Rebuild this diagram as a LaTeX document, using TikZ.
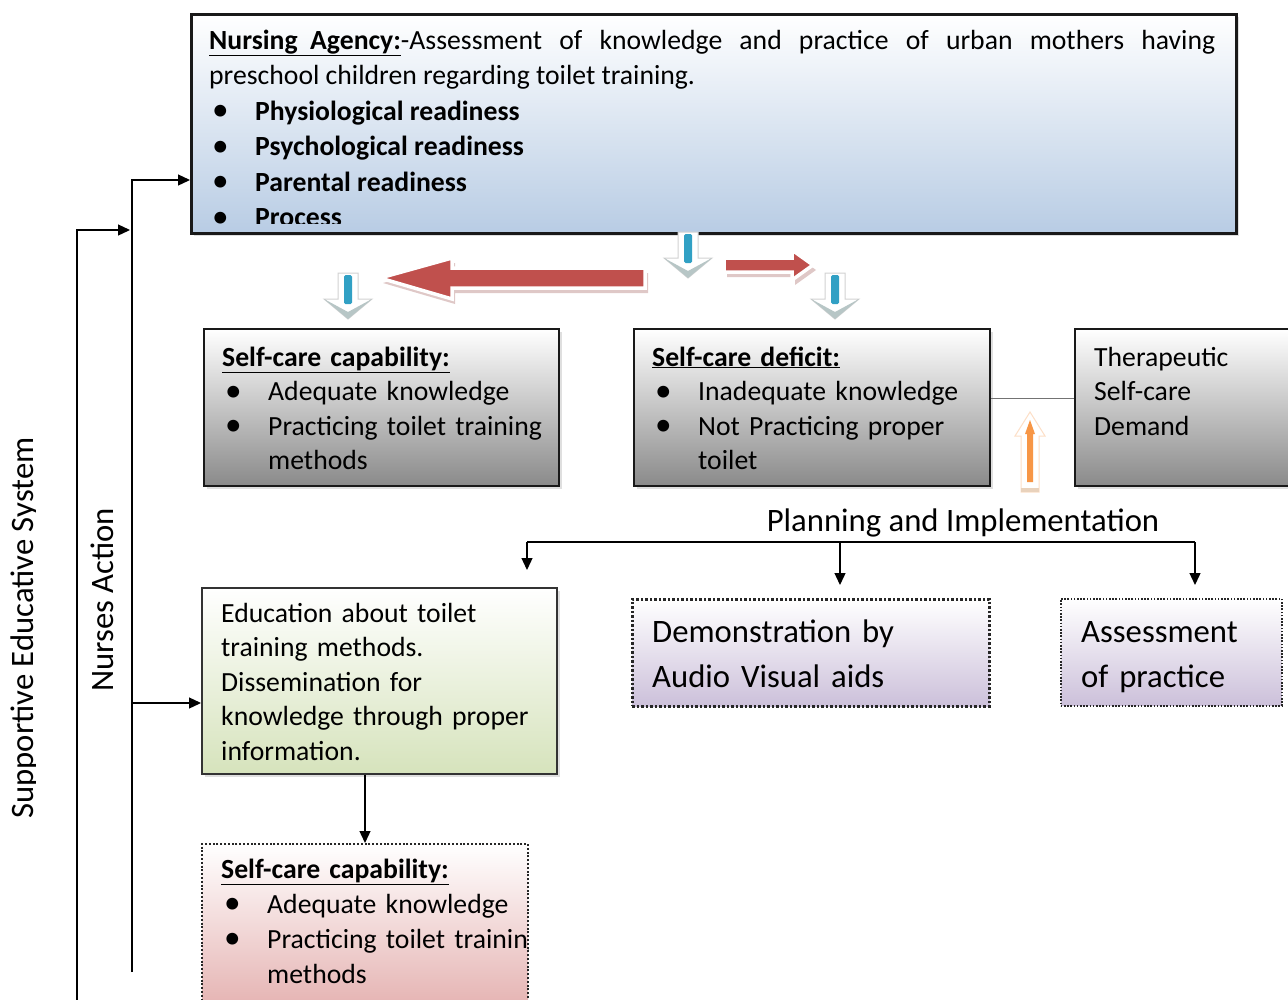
\documentclass[tikz,border=0pt]{standalone}
\usepackage{fontspec}
\setmainfont{Carlito}
\usetikzlibrary{arrows.meta, positioning, shadows}
\definecolor{agencyblue}{RGB}{184,204,228}
\definecolor{deficitgray}{RGB}{138,138,138}
\definecolor{educgreen}{RGB}{214,227,188}
\definecolor{demolilac}{RGB}{204,192,218}
\definecolor{capnextpink}{RGB}{228,176,175}
\definecolor{arrowred}{RGB}{192,80,77}
\definecolor{arrowteal}{RGB}{49,160,196}
\definecolor{arroworange}{RGB}{247,150,70}

\newcommand{\itm}{\makebox[46pt][l]{\hspace{3pt}\raisebox{-0.5pt}{\scalebox{1.2}{\textbullet}}}}
\newcommand{\basefont}{\fontsize{27.7pt}{34.5pt}\selectfont}
\newcommand{\bigfont}{\fontsize{32.7pt}{45pt}\selectfont}

\tikzset{
  % hollow block arrows between the boxes
  dropmark/.pic={
    \draw[fill=white, draw=gray!35, line width=1pt]
      (-10,0) -- (10,0) -- (10,26) -- (24,26) -- (0,46) -- (-24,26) -- (-10,26) -- cycle;
    \fill[teal!25!gray!45] (-24,26) -- (0,46) -- (24,26) -- (0,39) -- cycle;
    \fill[arrowteal, rounded corners=1.5pt] (-4,2) rectangle (4,31);
  },
  liftmark/.pic={
    \draw[fill=white, draw=arroworange!30, line width=1pt]
      (-9,0) -- (9,0) -- (9,-56) -- (15,-56) -- (0,-80) -- (-15,-56) -- (-9,-56) -- cycle;
    \fill[arroworange] (-3,-10) -- (3,-10) -- (3,-58) -- (5,-58) -- (0,-72) -- (-5,-58) -- (-3,-58) -- cycle;
    \fill[brown!35] (-9,0) rectangle (9,-4);
  },
}

\begin{document}
\begin{tikzpicture}[x=1pt, y=-1pt,
    card/.style={draw=black!90, line width=2pt, rectangle, anchor=north west, inner sep=0pt,
      top color=white, drop shadow={opacity=.25, shadow xshift=3pt, shadow yshift=-3pt}},
    dotcard/.style={draw=black!85, rectangle, anchor=north west, inner sep=0pt,
      top color=white, line width=2.5pt, dash pattern=on 2.5pt off 2pt},
    txt/.style={anchor=base west, inner sep=0pt, text width=340pt, align=left, font=\basefont},
    flow/.style={-{Triangle[length=12pt,width=11pt]}, line width=1.3pt},
    redarrow/.style={fill=arrowred, draw=white, line width=3.5pt, line join=miter,
      drop shadow={opacity=.35, shadow xshift=3pt, shadow yshift=-5pt, fill=arrowred!60!gray}}]
    \useasboundingbox[fill=white] (0,0) rectangle (1288,999);

    % boxes
    \node[card, line width=2.5pt, bottom color=agencyblue, minimum width=1045pt, minimum height=219pt] (agency) at (190,13) {};
    \node[card, bottom color=deficitgray, minimum width=355pt, minimum height=157pt] (cap) at (203,328) {};
    \node[card, bottom color=deficitgray, minimum width=356pt, minimum height=157pt] (deficit) at (633,328) {};
    \node[card, bottom color=deficitgray, minimum width=240pt, minimum height=157pt] (demand) at (1074,328) {};
    \node[card, line width=1.6pt, draw=black!80, bottom color=educgreen, minimum width=355pt, minimum height=186pt] (ed) at (201,587) {};
    \node[dotcard, bottom color=demolilac, minimum width=357pt, minimum height=107pt] (demo) at (631,598) {};
    \node[dotcard, line width=1.6pt, dash pattern=on 1.6pt off 1.6pt, bottom color=demolilac, minimum width=221pt, minimum height=107pt] (assess) at (1060,598) {};
    \node[dotcard, line width=2pt, dash pattern=on 2pt off 1.8pt, bottom color=capnextpink, minimum width=326pt, minimum height=170pt] (capnext) at (201,843) {};

    % box texts
    \begin{scope}
        \clip ([shift={(2pt,-2pt)}]agency.north west) rectangle ([shift={(-2pt,11pt)}]agency.south east);
        \node[txt, text width=1006pt, align=justify, font=\fontsize{27.7pt}{35.5pt}\selectfont, xshift=19pt, yshift=-36pt] (agencytext) at (agency.north west)
            {\underline{\textbf{Nursing\ \ Agency:}}-Assessment of knowledge and practice of urban mothers having\linebreak
             preschool children regarding toilet training.\\
             \itm\textbf{Physiological readiness}\\
             \itm\textbf{Psychological readiness}\\
             \itm\textbf{Parental readiness}\\
             \itm\textbf{Process}};
    \end{scope}
    \node[txt, xshift=19pt, yshift=-38pt] (captext) at (cap.north west)
        {\underline{\textbf{Self-care capability:}}\\
         \itm Adequate knowledge\\
         \itm Practicing toilet training\\
         \hspace*{46pt}methods};
    \node[txt, xshift=19pt, yshift=-38pt] (deficittext) at (deficit.north west)
        {\underline{\textbf{Self-care deficit:}}\\
         \itm Inadequate knowledge\\
         \itm Not Practicing proper\\
         \hspace*{46pt}toilet};
    \node[txt, xshift=20pt, yshift=-38pt] (demandtext) at (demand.north west)
        {Therapeutic\\ Self-care\\ Demand};
    \node[txt, xshift=20pt, yshift=-35pt] (edtext) at (ed.north west)
        {Education about toilet\\ training methods.\\ Dissemination for\\ knowledge through proper\\ information.};
    \node[txt, font=\bigfont, xshift=21pt, yshift=-44pt] (demotext) at (demo.north west)
        {Demonstration by\\ Audio Visual aids};
    \node[txt, font=\bigfont, text width=200pt, xshift=21pt, yshift=-44pt] (assesstext) at (assess.north west)
        {Assessment\\ of practice};
    \begin{scope}
        \clip ([shift={(2pt,-2pt)}]capnext.north west) rectangle ([shift={(-1pt,2pt)}]capnext.south east);
        \node[txt, font=\fontsize{27.7pt}{35pt}\selectfont, xshift=20pt, yshift=-35pt] (capnexttext) at (capnext.north west)
            {\underline{\textbf{Self-care capability:}}\\
             \itm Adequate knowledge\\
             \itm Practicing toilet training\\
             \hspace*{46pt}methods};
    \end{scope}

    % block arrows under the assessment box
    \filldraw[redarrow] (380,278) -- (452,258) -- (452,268) -- (645,268) -- (645,288) -- (452,288) -- (452,299) -- cycle;
    \filldraw[redarrow] (724,258) -- (792,258) -- (792,250) -- (813,265) -- (792,280) -- (792,272) -- (724,272) -- cycle;
    \pic at (688,232) {dropmark};
    \pic at (348,273) {dropmark};
    \pic at (835,273) {dropmark};
    \pic at (1030,492) {liftmark};

    \draw[gray!90!black, line width=1.5pt] ([yshift=9pt]deficit.east) -- ([yshift=9pt]demand.west);

    % planning and implementation
    \node[font=\bigfont, anchor=base, inner sep=0pt] (plan) at (963,531) {Planning and Implementation};
    \coordinate (pl) at (527,542);
    \coordinate (pm) at (840,542);
    \coordinate (pr) at (1195,542);
    \draw[line width=1.3pt] (pl) -- (pr);
    \draw[flow] (pl) -- ++(0,28);
    \draw[flow] (pm) -- ++(0,43);
    \draw[flow] (pr) -- ++(0,43);
    \draw[flow] (ed.south -| 365,0) -- (capnext.north -| 365,0);

    % nurses action and supportive system
    \coordinate (sys) at (77,1005);
    \coordinate (act) at (132,972);
    \draw[flow] (sys) |- (130,230);
    \draw[flow] (act) |- (agency.west |- 0,180);
    \draw[flow] (act |- 0,703) -- (ed.west |- 0,703);
    \node[font=\bigfont, rotate=90, anchor=base, inner sep=0pt] (action) at (113,600) {Nurses Action};
    \begin{scope}
        \clip (0,300) rectangle (35.5,900);
        \node[font=\bigfont, rotate=90, anchor=base, inner sep=0pt] (system) at (33,628) {Supportive Educative System};
    \end{scope}
\end{tikzpicture}
\end{document}
